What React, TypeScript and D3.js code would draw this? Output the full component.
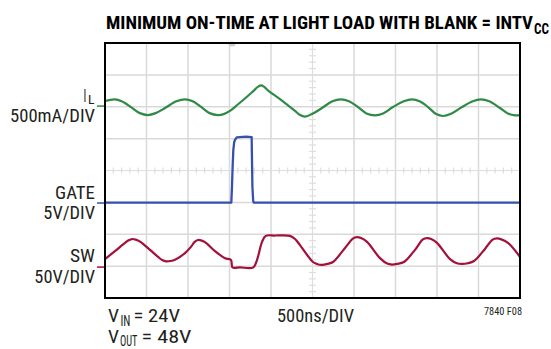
import React from 'react';
import * as d3 from 'd3';

const W = 551;
const H = 349;

// Scope screen: 10 horizontal divisions (500ns/DIV), 8 vertical divisions
const TIME_START_NS = 0;
const TIME_END_NS = 5000;
const V_DIVS = 8;
const H_DIVS = 10;

// IL trace (time ns, screen divisions from bottom)
const ilTime = [0, 120, 200, 313, 420, 518, 610, 723, 860, 964, 1050, 1145, 1260, 1361, 1430, 1506, 1600, 1700, 1790, 1845, 1880, 1915, 1970, 2108, 2289, 2350, 2410, 2500, 2614, 2740, 2843, 2940, 3048, 3150, 3253, 3350, 3470, 3600, 3699, 3790, 3892, 3990, 4072, 4170, 4301, 4430, 4530, 4630, 4759, 4860, 4940, 5000];
const ilDiv = [6.18, 6.23, 6.17, 5.99, 5.8, 5.74, 5.8, 5.96, 6.17, 6.23, 6.18, 6.02, 5.8, 5.74, 5.77, 5.87, 6.07, 6.29, 6.5, 6.63, 6.67, 6.63, 6.5, 6.24, 5.87, 5.74, 5.69, 5.78, 5.96, 6.17, 6.23, 6.17, 5.99, 5.79, 5.73, 5.79, 5.99, 6.17, 6.23, 6.17, 5.99, 5.77, 5.71, 5.78, 5.99, 6.17, 6.23, 6.17, 5.96, 5.78, 5.73, 5.74];

// GATE trace
const gateTime = [0, 1522, 1530, 1538, 1546, 1556, 1566, 1587, 1700, 1767, 1770, 1776, 1785, 1792, 5000];
const gateDiv = [2.99, 2.99, 3.5, 4.14, 4.64, 4.88, 4.96, 5.04, 5.06, 5.05, 4.5, 3.5, 3.05, 2.99, 2.99];

// SW trace
const swTime = [0, 120, 241, 285, 325, 370, 422, 542, 639, 690, 735, 790, 843, 964, 1040, 1080, 1120, 1165, 1217, 1325, 1446, 1518, 1536, 1627, 1787, 1831, 1892, 1936, 2048, 2229, 2290, 2349, 2506, 2560, 2614, 2680, 2747, 2892, 2990, 3036, 3085, 3157, 3313, 3400, 3458, 3520, 3602, 3735, 3830, 3880, 3930, 4000, 4157, 4240, 4301, 4370, 4446, 4578, 4670, 4723, 4775, 4855, 5000];
const swDiv = [1.22, 1.47, 1.73, 1.81, 1.85, 1.83, 1.77, 1.51, 1.29, 1.19, 1.15, 1.16, 1.2, 1.41, 1.62, 1.76, 1.82, 1.8, 1.73, 1.47, 1.25, 1.19, 0.96, 0.96, 0.96, 1.19, 1.76, 1.95, 1.96, 1.95, 1.85, 1.66, 1.13, 1.06, 1.04, 1.07, 1.13, 1.57, 1.87, 1.91, 1.88, 1.76, 1.25, 1.08, 1.05, 1.07, 1.13, 1.51, 1.84, 1.88, 1.85, 1.73, 1.22, 1.09, 1.07, 1.09, 1.16, 1.54, 1.83, 1.87, 1.84, 1.73, 1.29];

// channel ground markers (divisions from bottom)
const channelNames = ['IL', 'GATE', 'SW'];
const channelZero = [6.02, 2.98, 0.97];
const channelColors = ['#2f8a45', '#3650b0', '#a3103a'];

const TRIGGER_NS = 1530;

const FONT = "'Liberation Sans Narrow', 'Arial Narrow', 'Roboto Condensed', 'Liberation Sans', Arial, sans-serif";

const PLOT = { left: 105, right: 520, top: 43, bottom: 298 };

function T(props: any) {
  const { children, w, ...rest } = props;
  return (
    <text fontFamily={FONT} fill="#231f20" textLength={w} lengthAdjust="spacingAndGlyphs" {...rest}>
      {children}
    </text>
  );
}

export default function App() {
  const x = d3.scaleLinear().domain([TIME_START_NS, TIME_END_NS]).range([PLOT.left, PLOT.right]);
  const y = d3.scaleLinear().domain([0, V_DIVS]).range([PLOT.bottom, PLOT.top]);
  const nsPerDiv = (TIME_END_NS - TIME_START_NS) / H_DIVS;

  const smooth = d3.line<[number, number]>().x(d => x(d[0])).y(d => y(d[1])).curve(d3.curveCatmullRom.alpha(0.5));
  const straight = d3.line<[number, number]>().x(d => x(d[0])).y(d => y(d[1]));

  const ilPts = ilTime.map((t, i) => [t, ilDiv[i]] as [number, number]);
  const gatePts = gateTime.map((t, i) => [t, gateDiv[i]] as [number, number]);
  const swPts = swTime.map((t, i) => [t, swDiv[i]] as [number, number]);

  const vLines = d3.range(1, H_DIVS).filter(k => k !== H_DIVS / 2);
  const hLines = d3.range(1, V_DIVS).filter(k => k !== V_DIVS / 2);
  const hTicks = d3.range(0, H_DIVS * 5 + 1).map(k => TIME_START_NS + k * nsPerDiv / 5);
  const vTicks = d3.range(0, V_DIVS * 5 + 1).map(k => k / 5);
  const cx = x(TIME_START_NS + nsPerDiv * H_DIVS / 2);
  const cy = y(V_DIVS / 2);

  return (
    <svg width={W} height={H} style={{ position: 'absolute', left: 0, top: 0, background: '#fff' }}>
      <rect x={0} y={0} width={W} height={H} fill="#fff" />
      {/* grid */}
      <g stroke="#d9d9d9" strokeWidth={1.5}>
        {vLines.map(k => (
          <line key={'v' + k} x1={x(k * nsPerDiv)} x2={x(k * nsPerDiv)} y1={PLOT.top} y2={PLOT.bottom} />
        ))}
        {hLines.map(k => (
          <line key={'h' + k} x1={PLOT.left} x2={PLOT.right} y1={y(k)} y2={y(k)} />
        ))}
      </g>
      <g stroke="#dedede" strokeWidth={1.2}>
        <line x1={PLOT.left} x2={PLOT.right} y1={cy} y2={cy} />
        <line x1={cx} x2={cx} y1={PLOT.top} y2={PLOT.bottom} />
        {hTicks.map((t, i) => (
          <line key={'ht' + i} x1={x(t)} x2={x(t)} y1={cy - 3} y2={cy + 3} />
        ))}
        {vTicks.map((v, i) => (
          <line key={'vt' + i} x1={cx - 3.5} x2={cx + 3.5} y1={y(v)} y2={y(v)} />
        ))}
      </g>
      {/* trigger marker */}
      <ellipse cx={x(TRIGGER_NS)} cy={PLOT.top + 1} rx={3.5} ry={2.5} fill="#cfcfcf" />

      {/* traces */}
      <path d={smooth(ilPts) || ''} fill="none" stroke={channelColors[0]} strokeWidth={2.2} strokeLinejoin="round" />
      <path d={straight(gatePts) || ''} fill="none" stroke={channelColors[1]} strokeWidth={2.3} strokeLinejoin="round" />
      <path d={smooth(swPts) || ''} fill="none" stroke={channelColors[2]} strokeWidth={2.2} strokeLinejoin="round" />

      {/* border */}
      <rect x={PLOT.left} y={PLOT.top} width={PLOT.right - PLOT.left} height={PLOT.bottom - PLOT.top} fill="none" stroke="#000" strokeWidth={2} />

      {/* channel markers */}
      {channelNames.map((n, i) => (
        <line key={n} x1={PLOT.left - 8} x2={PLOT.left - 1} y1={y(channelZero[i])} y2={y(channelZero[i])} stroke={channelColors[i]} strokeWidth={1.5} />
      ))}

      {/* title */}
      <T x={106} y={29} fontSize={19} fontWeight="bold" fill="#000" w={427}>MINIMUM ON-TIME AT LIGHT LOAD WITH BLANK = INTV</T>
      <T x={534} y={34} fontSize={14} fontWeight="bold" fill="#000" w={15}>CC</T>

      {/* left labels */}
      <T x={83.5} y={102} fontSize={19} w={2.8}>I</T>
      <T x={88} y={104.3} fontSize={13.5} w={6.5}>L</T>
      <T x={10} y={122} fontSize={18.5} w={85}>500mA/DIV</T>
      <T x={55} y={199.3} fontSize={18.5} w={40}>GATE</T>
      <T x={43.3} y={219} fontSize={18.5} w={51.7}>5V/DIV</T>
      <T x={70} y={261.7} fontSize={18.5} w={25}>SW</T>
      <T x={34.3} y={283.3} fontSize={18.5} w={60.7}>50V/DIV</T>

      {/* bottom labels */}
      <T x={108} y={322} fontSize={19} w={11}>V</T>
      <T x={120.5} y={326} fontSize={14} w={10}>IN</T>
      <T x={133.5} y={322} fontSize={19} w={46.5}>= 24V</T>
      <T x={108} y={342.5} fontSize={19} w={11}>V</T>
      <T x={120} y={346} fontSize={14} w={17.5}>OUT</T>
      <T x={141.5} y={342.5} fontSize={19} w={50}>= 48V</T>
      <T x={277} y={322} fontSize={19} w={77}>500ns/DIV</T>
      <T x={484} y={315} fontSize={10.5} w={38}>7840 F08</T>
    </svg>
  );
}
